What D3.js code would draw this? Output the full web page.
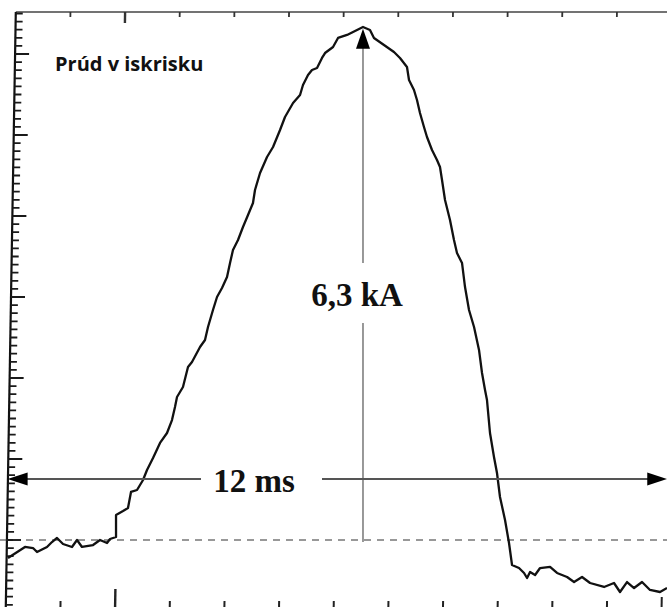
<!DOCTYPE html>
<html><head><meta charset="utf-8">
<script src="https://cdn.jsdelivr.net/npm/d3@7"></script>
<style>html,body{margin:0;padding:0;background:#fff;} svg{display:block}</style>
</head><body><svg id="c" width="667" height="607"></svg>
<script>
// ---- data (time in ms, current in kA) ----
const timeMs = [-0.143,0.168,0.315,0.388,0.571,0.662,0.754,0.864,1.028,1.120,1.211,1.413,1.541,1.669,1.724,1.834,1.834,1.962,2.053,2.108,2.218,2.328,2.401,2.511,2.639,2.767,2.858,2.913,2.950,3.059,3.151,3.224,3.371,3.462,3.517,3.608,3.682,3.773,3.865,3.920,3.974,4.066,4.157,4.249,4.340,4.377,4.469,4.597,4.707,4.835,4.926,5.073,5.201,5.255,5.347,5.420,5.512,5.603,5.658,5.805,5.896,6.061,6.244,6.353,6.481,6.554,6.737,6.920,7.030,7.158,7.195,7.286,7.341,7.396,7.469,7.524,7.616,7.707,7.762,7.799,7.854,7.945,8.018,8.073,8.165,8.220,8.293,8.385,8.476,8.531,8.586,8.622,8.677,8.750,8.805,8.860,8.952,9.025,9.080,9.208,9.300,9.355,9.410,9.502,9.593,9.776,9.904,10.087,10.215,10.361,10.508,10.764,10.946,11.056,11.184,11.313,11.459,11.605,11.788,11.916];
const currentKA = [-0.222,-0.086,-0.099,-0.148,-0.086,-0.025,0.025,-0.049,-0.086,0.000,-0.086,-0.062,0.000,-0.037,0.012,0.037,0.309,0.358,0.395,0.593,0.617,0.741,0.864,1.012,1.198,1.321,1.481,1.642,1.765,1.889,2.136,2.198,2.383,2.469,2.630,2.840,3.000,3.111,3.247,3.420,3.580,3.704,3.864,4.012,4.160,4.321,4.531,4.728,4.852,5.062,5.222,5.395,5.494,5.617,5.741,5.802,5.827,5.951,6.012,6.086,6.198,6.235,6.296,6.333,6.296,6.198,6.111,6.025,5.951,5.840,5.679,5.556,5.432,5.272,5.099,4.975,4.815,4.691,4.605,4.444,4.198,3.951,3.704,3.543,3.420,3.123,2.840,2.630,2.346,2.062,1.852,1.728,1.321,1.025,0.827,0.531,0.247,-0.037,-0.309,-0.346,-0.407,-0.469,-0.395,-0.432,-0.346,-0.333,-0.407,-0.457,-0.519,-0.457,-0.531,-0.580,-0.531,-0.642,-0.519,-0.593,-0.519,-0.617,-0.642,-0.593];

const topTickMs = [1,2,3,4,5,6,7,8,9,10,11,12];
const bottomTickMs = [1,2,3,4,5,6,7,8,9,10,11,12];
const longTimeTicks = [2];
const leftMinorKA = d3.range(-8, 66).map(i => i / 10);
const leftMajorKA = [0,1,2,3,4,5,6];

const titleText = "Prúd v iskrisku";
const peakLabel = "6,3 kA";
const peakKA = 6.3;
const peakMs = 6.353;
const spanLabel = "12 ms";
const spanMs = [-0.15, 11.92];
const spanLevelKA = 0.753;
const frameTopKA = 6.52;
const frameBottomKA = -0.86;

// ---- scales ----
const W = 667, H = 607;
const x = d3.scaleLinear().domain([0, 12]).range([15.8, 15.8 + 54.65 * 12]);
const y = d3.scaleLinear().domain([0, 6]).range([540, 54]);

const svg = d3.select("#c");
svg.append("rect").attr("width", W).attr("height", H).attr("fill", "#fff");

// scope graticule (photographed slightly sheared)
const k = -10 / 595;
const yTop = y(frameTopKA);
const scope = svg.append("g").attr("transform", `matrix(1,0,${k},1,${-k * yTop},0)`);

scope.append("line").attr("x1", x(0)).attr("x2", W + 20).attr("y1", yTop).attr("y2", yTop)
  .attr("stroke", "#444").attr("stroke-width", 1.5);
scope.append("line").attr("x1", x(0)).attr("x2", x(0)).attr("y1", yTop).attr("y2", y(frameBottomKA))
  .attr("stroke", "#111").attr("stroke-width", 2.2);

// left ticks
scope.append("g").selectAll("line").data(leftMinorKA).join("line")
  .attr("x1", x(0)).attr("x2", d => x(0) + (leftMajorKA.some(m => Math.abs(m - d) < 1e-6) ? 14 : 7))
  .attr("y1", d => y(d)).attr("y2", d => y(d))
  .attr("stroke", "#1a1a1a").attr("stroke-width", 1.8);

// top ticks
scope.append("g").selectAll("line").data(topTickMs).join("line")
  .attr("x1", d => x(d)).attr("x2", d => x(d))
  .attr("y1", yTop).attr("y2", d => yTop + (longTimeTicks.includes(d) ? 11 : 5))
  .attr("stroke", "#333").attr("stroke-width", d => longTimeTicks.includes(d) ? 2.4 : 1.8);

// bottom ticks
const yBot = H + 2;
scope.append("g").selectAll("line").data(bottomTickMs).join("line")
  .attr("x1", d => x(d)).attr("x2", d => x(d))
  .attr("y1", d => yBot - (longTimeTicks.includes(d) ? 20 : (d === 12 ? 12 : 8))).attr("y2", yBot)
  .attr("stroke", "#222").attr("stroke-width", d => longTimeTicks.includes(d) ? 2.4 : 2);

// zero baseline (dashed)
svg.append("line").attr("x1", 0).attr("x2", W).attr("y1", y(0)).attr("y2", y(0))
  .attr("stroke", "#333").attr("stroke-width", 1.2).attr("stroke-dasharray", "7,6");

// trace
const pts = timeMs.map((t, i) => [t, currentKA[i]]);
svg.append("path").datum(pts)
  .attr("d", d3.line().x(d => x(d[0])).y(d => y(d[1])))
  .attr("fill", "none").attr("stroke", "#111").attr("stroke-width", 2.3)
  .attr("stroke-linejoin", "round");

// title
svg.append("text").attr("x", 55).attr("y", 71)
  .attr("font-family", "'Open Sans', sans-serif").attr("font-weight", 700).attr("font-size", 20)
  .attr("fill", "#111").text(titleText);

// ---- peak annotation (vertical arrow) ----
const px = x(peakMs);
const gapTop = 263, gapBot = 323;
svg.append("line").attr("x1", px).attr("x2", px).attr("y1", y(0) + 2).attr("y2", gapBot)
  .attr("stroke", "#777").attr("stroke-width", 1.5);
svg.append("line").attr("x1", px).attr("x2", px).attr("y1", gapTop).attr("y2", y(peakKA) + 18)
  .attr("stroke", "#777").attr("stroke-width", 1.5);
const tipY = y(peakKA) - 1;
svg.append("path").attr("d", `M${px},${tipY} L${px - 7},${tipY + 20} L${px + 7},${tipY + 20} Z`).attr("fill", "#000");
svg.append("text").attr("x", px - 6).attr("y", 306).attr("text-anchor", "middle")
  .attr("font-family", "'Liberation Serif', 'Times New Roman', serif").attr("font-weight", 700)
  .attr("font-size", 33).attr("fill", "#111").text(peakLabel);

// ---- duration annotation (horizontal arrow) ----
const hy = y(spanLevelKA);
const lx = x(spanMs[0]), rx = x(spanMs[1]);
const tcx = 254;
svg.append("line").attr("x1", lx + 18).attr("x2", 201).attr("y1", hy).attr("y2", hy)
  .attr("stroke", "#555").attr("stroke-width", 1.8);
svg.append("line").attr("x1", 322).attr("x2", rx - 18).attr("y1", hy).attr("y2", hy)
  .attr("stroke", "#555").attr("stroke-width", 1.8);
svg.append("path").attr("d", `M${lx},${hy} L${lx + 20},${hy - 6.5} L${lx + 20},${hy + 6.5} Z`).attr("fill", "#000");
svg.append("path").attr("d", `M${rx},${hy} L${rx - 20},${hy - 6.5} L${rx - 20},${hy + 6.5} Z`).attr("fill", "#000");
svg.append("text").attr("x", tcx).attr("y", 492).attr("text-anchor", "middle")
  .attr("font-family", "'Liberation Serif', 'Times New Roman', serif").attr("font-weight", 700)
  .attr("font-size", 33).attr("fill", "#111").text(spanLabel);
</script>
</body></html>
